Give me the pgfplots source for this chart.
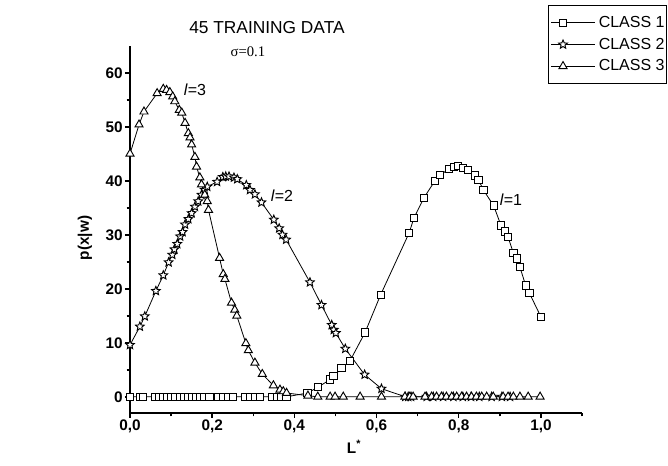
\documentclass[border=0pt]{standalone}
\usepackage{fontspec}
\setmainfont{Liberation Sans}
\newfontfamily\serifsigma{Liberation Serif}
\usepackage{pgfplots}
\pgfplotsset{compat=1.18}
\usepackage{pgfplotstable}

% open five-pointed star marker
\pgfdeclareplotmark{ostar}{%
  \pgfpathmoveto{\pgfpointpolar{90}{\pgfplotmarksize}}%
  \pgfpathlineto{\pgfpointpolar{126}{0.45\pgfplotmarksize}}%
  \pgfpathlineto{\pgfpointpolar{162}{\pgfplotmarksize}}%
  \pgfpathlineto{\pgfpointpolar{198}{0.45\pgfplotmarksize}}%
  \pgfpathlineto{\pgfpointpolar{234}{\pgfplotmarksize}}%
  \pgfpathlineto{\pgfpointpolar{270}{0.45\pgfplotmarksize}}%
  \pgfpathlineto{\pgfpointpolar{306}{\pgfplotmarksize}}%
  \pgfpathlineto{\pgfpointpolar{342}{0.45\pgfplotmarksize}}%
  \pgfpathlineto{\pgfpointpolar{18}{\pgfplotmarksize}}%
  \pgfpathlineto{\pgfpointpolar{54}{0.45\pgfplotmarksize}}%
  \pgfpathclose
  \pgfusepathqfillstroke
}

\pgfplotstableread{
x y
0.000 0
0.024 0
0.032 0
0.061 0
0.071 0
0.081 0
0.091 0
0.101 0
0.111 0
0.121 0
0.131 0
0.141 0
0.151 0
0.161 0
0.171 0
0.181 0
0.193 0
0.215 0
0.227 0
0.239 0
0.251 0
0.280 0
0.292 0
0.304 0
0.316 0
0.345 0
0.357 0
0.369 0
0.381 0
0.432 0.7
0.458 1.8
0.487 3.2
0.495 3.8
0.515 5.3
0.535 6.6
0.572 11.9
0.610 18.9
0.679 30.3
0.691 33.1
0.715 36.8
0.742 40.0
0.755 41.1
0.777 42.2
0.788 42.5
0.798 42.7
0.810 42.4
0.822 42.0
0.840 41.0
0.848 40.2
0.860 38.3
0.885 35.4
0.903 31.7
0.912 30.6
0.920 29.6
0.933 26.6
0.941 25.6
0.949 24.0
0.963 20.6
0.972 19.2
1.000 14.8
}\classone

\pgfplotstableread{
x y
0.000 9.6
0.024 13.0
0.036 14.9
0.063 19.6
0.081 22.5
0.094 24.9
0.103 26.3
0.108 27.3
0.115 28.3
0.122 29.7
0.128 30.5
0.134 31.9
0.142 32.9
0.150 34.0
0.158 35.2
0.166 36.2
0.174 37.4
0.182 38.3
0.188 38.9
0.212 39.8
0.226 40.7
0.233 40.8
0.241 40.8
0.253 40.6
0.261 40.3
0.283 39.2
0.292 38.3
0.304 37.5
0.320 36.0
0.350 32.8
0.363 31.2
0.371 30.0
0.380 29.1
0.438 21.2
0.466 17.0
0.491 13.3
0.496 12.4
0.501 11.8
0.524 8.9
0.571 4.1
0.612 1.5
0.670 0
0.677 0
0.684 0
0.722 0
0.738 0
0.762 0
0.787 0
0.810 0
0.830 0
0.850 0
0.880 0
0.905 0
0.925 0
}\classtwo

\pgfplotstableread{
x y
0.000 45.0
0.022 50.4
0.034 52.8
0.066 56.2
0.081 57.0
0.089 56.8
0.097 56.4
0.104 55.6
0.109 54.7
0.120 53.1
0.126 52.6
0.134 50.7
0.142 48.8
0.146 48.0
0.150 46.7
0.158 44.4
0.162 42.6
0.170 40.6
0.174 39.3
0.182 37.4
0.188 36.2
0.191 34.6
0.218 25.7
0.227 22.7
0.231 21.8
0.247 17.4
0.255 16.1
0.260 15.0
0.282 9.9
0.288 8.6
0.304 6.3
0.322 4.2
0.349 2.1
0.365 1.3
0.373 1.0
0.381 0.7
0.433 0.2
0.457 0
0.487 0
0.499 0
0.519 0
0.560 0
0.612 0
0.669 0
0.681 0
0.689 0
0.718 0
0.734 0
0.746 0
0.758 0
0.770 0
0.783 0
0.795 0
0.807 0
0.819 0
0.831 0
0.843 0
0.856 0
0.868 0
0.884 0
0.908 0
0.920 0
0.933 0
0.949 0
0.969 0
0.998 0
}\classthree

\begin{document}
\begin{tikzpicture}
\path[use as bounding box] (-97.5pt,-39.75pt) rectangle (403.5pt,309.75pt);
\begin{axis}[
    scale only axis,
    width=339pt, height=275.4pt,
    xmin=0, xmax=1.1, ymin=-3, ymax=65,
    axis lines=left,
    axis line style={-, line width=1.3pt},
    xtick={0,0.2,0.4,0.6,0.8,1.0},
    minor xtick={0.1,0.3,0.5,0.7,0.9,1.1},
    ytick={0,10,20,30,40,50,60},
    minor ytick={5,15,25,35,45,55},
    tick align=outside,
    major tick length=3.75pt, minor tick length=2.6pt,
    tick style={black, line width=1.1pt},
    /pgf/number format/assume math mode=true,
    tick label style={font=\bfseries\fontsize{11.5}{13}\selectfont},
    yticklabel style={inner xsep=1.5pt},
    xticklabel style={yshift=2pt, /pgf/number format/.cd, fixed, fixed zerofill, precision=1, use comma},
    xlabel={L\textsuperscript{*}},
    ylabel={p(x|w)},
    label style={font=\bfseries\fontsize{11.5}{14}\selectfont},
    xlabel style={at={(axis description cs:0.4956,-0.0926)}, anchor=center},
    ylabel style={at={(axis description cs:-0.0996,0.4766)}, anchor=center},
    clip=false,
    legend style={at={(1.188,1.111)}, anchor=north east, draw=black, line width=0.6pt,
        font=\fontsize{12}{14}\selectfont, inner xsep=1.5pt, inner ysep=6.9pt,
        row sep=4pt, nodes={inner xsep=0pt, inner ysep=1.2pt},
        /tikz/every odd column/.append style={column sep=2.5pt}},
    legend cell align=left,
    legend image code/.code={%
        \draw[mark repeat=2,mark phase=2,#1]
        plot coordinates {(0pt,0pt) (9pt,0pt) (33pt,0pt)};},
]
\addplot[black, line width=0.6pt, mark=square*, mark size=2.75pt,
    mark options={fill=white, solid, line width=0.7pt}] table[x=x,y=y] {\classone};
\addplot[black, line width=0.6pt, mark=ostar, mark size=3.4pt,
    mark options={fill=white, solid, line width=0.7pt}] table[x=x,y=y] {\classtwo};
\addplot[black, line width=0.6pt, mark=triangle*, mark size=3.5pt,
    mark options={fill=white, solid, line width=0.7pt}] table[x=x,y=y] {\classthree};
\legend{CLASS 1, CLASS 2, CLASS 3}

\node[font=\fontsize{13}{15}\selectfont] at (rel axis cs:0.303,1.051) {45 TRAINING DATA};
\node[font=\serifsigma\fontsize{11}{13}\selectfont] at (rel axis cs:0.261,0.983) {σ=0.1};
\node[font=\fontsize{12}{14}\selectfont] at (axis cs:0.158,56.9) {\textit{l}=3};
\node[font=\fontsize{12}{14}\selectfont] at (axis cs:0.370,37.2) {\textit{l}=2};
\node[font=\fontsize{12}{14}\selectfont] at (axis cs:0.927,36.5) {\textit{l}=1};
\end{axis}
\end{tikzpicture}
\end{document}
